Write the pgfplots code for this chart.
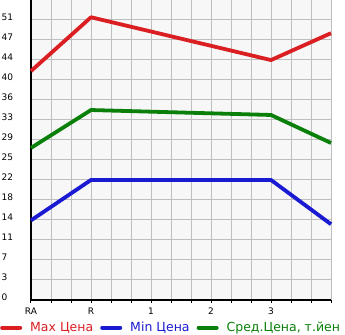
\documentclass[border=0pt]{standalone}
\usepackage{fontspec}
\setmainfont{DejaVu Sans}
\usepackage{pgfplots}
\pgfplotsset{compat=1.18}
\definecolor{cred}{RGB}{218,30,34}
\definecolor{cblue}{RGB}{26,26,210}
\definecolor{cgreen}{RGB}{10,128,10}
\definecolor{cgrid}{RGB}{190,190,190}
\definecolor{cbg}{RGB}{247,247,247}
\begin{document}
\begin{tikzpicture}
\begin{axis}[
  name=ax,
  scale only axis,
  width=300pt, height=300pt,
  xmin=0, xmax=15, ymin=0, ymax=54.643,
  axis x line=bottom, axis y line=left,
  axis line style={-, black, line width=2pt},
  axis background/.style={fill=cbg},
  xtick={0,1,...,15},
  xticklabels={RA,,,R,,,1,,,2,,,3,,,},
  ytick={0,3.643,7.286,10.929,14.571,18.214,21.857,25.5,29.143,32.786,36.429,40.071,43.714,47.357,51,54.643},
  yticklabels={0,3,7,11,14,18,22,25,29,33,36,40,44,47,51,},
  grid=major,
  grid style={cgrid, line width=1pt},
  major tick length=3pt,
  tick align=outside,
  xtick style={black, line width=1pt},
  ytick style={draw=none},
  /pgf/number format/assume math mode=true,
  ticklabel style={font=\fontsize{9}{10}\selectfont},
  yticklabel style={anchor=west, xshift=-30pt, yshift=3pt},
  xticklabel style={yshift=-1pt},
  clip=false,
  legend style={draw=none, fill=none, at={(axis cs:0,0)}, anchor=north west, xshift=-31pt, yshift=-20pt,
    legend columns=3, font=\fontsize{12.5}{14}\selectfont, inner sep=0pt,
    /tikz/every odd column/.append style={column sep=6pt},
    /tikz/every even column/.append style={column sep=5pt}},
  legend image code/.code={\draw[line cap=round, line width=4pt, #1] (2pt,0pt) -- (20pt,0pt);},
]
\addplot[cred, line width=3.8pt, line join=round] coordinates {(0,41.7) (3,51.5) (12,43.7) (15,48.6)};
\addlegendentry{\textcolor{cred}{Max Цена}}
\addplot[cblue, line width=3.8pt, line join=round] coordinates {(0,14.5) (3,21.86) (12,21.86) (15,13.8)};
\addlegendentry{\textcolor{cblue}{Min Цена}}
\addplot[cgreen, line width=3.8pt, line join=round] coordinates {(0,27.7) (3,34.6) (12,33.7) (15,28.6)};
\addlegendentry{\textcolor{cgreen}{Сред.Цена, т.йен}}
\end{axis}
\pgfresetboundingbox
\path ([shift={(-31pt,-35pt)}]ax.south west) rectangle ([shift={(14pt,0pt)}]ax.north east);
\end{tikzpicture}
\end{document}
